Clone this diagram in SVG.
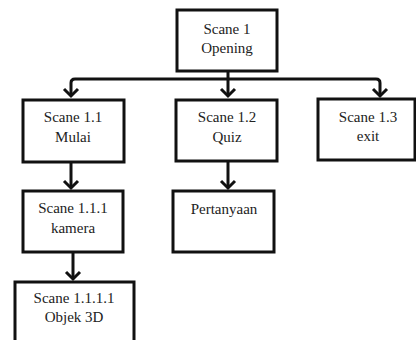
<svg xmlns="http://www.w3.org/2000/svg" width="416" height="340" viewBox="0 0 416 340">
<style>
.box{fill:#fff;stroke:#111;stroke-width:3}
.lbl{font-family:"Liberation Serif","Times New Roman",serif;font-size:15px;fill:#222;text-anchor:middle}
.con{fill:none;stroke:#111;stroke-width:3;stroke-linejoin:round;marker-end:url(#arr)}
</style>
<defs>
<marker id="arr" markerUnits="userSpaceOnUse" markerWidth="20" markerHeight="20" refX="10" refY="10" orient="auto" overflow="visible">
<path d="M3,3 L10,10 L3,17" fill="none" stroke="#111" stroke-width="3" stroke-linejoin="miter"/>
</marker>
</defs>
<rect width="416" height="340" fill="#fff"/>
<g id="connectors">
<path class="con" d="M228,71 V96"/>
<path class="con" d="M228,79 H75 Q71,79 71,83 V96"/>
<path class="con" d="M228,79 H376 Q380,79 380,83 V96"/>
<path class="con" d="M71,162 V188"/>
<path class="con" d="M228,161 V188"/>
<path class="con" d="M73,252 V279"/>
</g>
<g id="scane1">
<rect class="box" x="177" y="10" width="100" height="61"/>
<text class="lbl" x="227" y="34">Scane 1</text>
<text class="lbl" x="227" y="53">Opening</text>
</g>
<g id="scane1_1">
<rect class="box" x="23" y="100" width="101" height="62"/>
<text class="lbl" x="73" y="122">Scane 1.1</text>
<text class="lbl" x="73" y="142">Mulai</text>
</g>
<g id="scane1_2">
<rect class="box" x="176" y="100" width="101" height="61"/>
<text class="lbl" x="227" y="122">Scane 1.2</text>
<text class="lbl" x="227" y="142">Quiz</text>
</g>
<g id="scane1_3">
<rect class="box" x="318" y="99" width="97" height="61"/>
<text class="lbl" x="368" y="122">Scane 1.3</text>
<text class="lbl" x="368" y="141">exit</text>
</g>
<g id="scane1_1_1">
<rect class="box" x="23" y="191" width="100" height="61"/>
<text class="lbl" x="73" y="213">Scane 1.1.1</text>
<text class="lbl" x="73" y="233">kamera</text>
</g>
<g id="pertanyaan">
<rect class="box" x="173" y="191" width="101" height="61"/>
<text class="lbl" x="224" y="214">Pertanyaan</text>
</g>
<g id="scane1_1_1_1">
<rect class="box" x="15" y="282" width="119" height="64"/>
<text class="lbl" x="74" y="303">Scane 1.1.1.1</text>
<text class="lbl" x="74" y="322">Objek 3D</text>
</g>
</svg>
